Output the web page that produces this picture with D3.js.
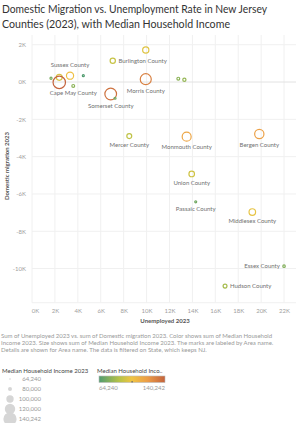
<!DOCTYPE html>
<html>
<head>
<meta charset="utf-8">
<script src="https://cdn.jsdelivr.net/npm/d3@7"></script>
<style>
  body { margin: 0; background: #fff; }
  svg { display: block; font-family: Lato, "Open Sans", sans-serif; }
</style>
</head>
<body>
<div id="chart"></div>
<script>
// county data
const counties = ['Salem County', 'Warren County', 'Hunterdon County', 'Sussex County', 'Cumberland County',
  'Cape May County', 'Burlington County', 'Gloucester County', 'Morris County', 'Atlantic County',
  'Camden County', 'Somerset County', 'Ocean County', 'Mercer County', 'Monmouth County',
  'Union County', 'Bergen County', 'Passaic County', 'Middlesex County', 'Essex County', 'Hudson County']
const unemployed = [1660, 2380, 2380, 3320, 4480, 3600, 7050, 9930, 9930, 12770,
  13300, 6870, 7250, 8490, 13500, 13940, 19840, 14290, 19230, 22000, 16850]
const migration = [200, 250, -20, 340, 340, -210, 1140, 1720, 150, 180,
  120, -640, -870, -2900, -2930, -4930, -2790, -6420, -6970, -9870, -10940]
const income = [74000, 96000, 140242, 104000, 64240, 78000, 92000, 98000, 130000, 78000,
  80000, 135000, 72000, 90000, 116000, 94000, 118000, 72000, 100000, 76000, 84000]
// which marks carry a label and where
const labelled = {
  'Sussex County': 'above', 'Cape May County': 'below', 'Burlington County': 'right',
  'Morris County': 'below', 'Somerset County': 'below', 'Mercer County': 'below',
  'Monmouth County': 'below', 'Bergen County': 'below', 'Union County': 'below',
  'Passaic County': 'below', 'Middlesex County': 'below', 'Essex County': 'left', 'Hudson County': 'right'
}
const xTicks = [0, 2000, 4000, 6000, 8000, 10000, 12000, 14000, 16000, 18000, 20000, 22000]
const yTicks = [-10000, -8000, -6000, -4000, -2000, 0, 2000]
const sizeLegend = [64240, 80000, 100000, 120000, 140242]
const colorStops = [64240, 88000, 102000, 120000, 140242]
const colorRange = ['#519c70', '#b7c347', '#efc443', '#ec9d47', '#c4633c']

const data = counties.map((name, i) => ({name, u: unemployed[i], m: migration[i], inc: income[i]}))

const W = 300, H = 423
const svg = d3.select('#chart').append('svg').attr('width', W).attr('height', H)

const x = d3.scaleLinear().domain([0, 23000]).range([32, 295.5])
const y = d3.scaleLinear().domain([-11830, 2520]).range([302.7, 35])
const r = d3.scaleSqrt().domain([63000, 140242]).range([0, 6.2]).clamp(true)
const color = d3.scaleLinear().domain(colorStops).range(colorRange)

// title - the tableau font is narrower, so squeeze it a bit
svg.append('text').attr('x', 2).attr('y', 13).attr('font-size', 11).attr('fill', '#333')
  .attr('textLength', 265).attr('lengthAdjust', 'spacingAndGlyphs')
  .text('Domestic Migration vs. Unemployment Rate in New Jersey')
svg.append('text').attr('x', 2).attr('y', 28).attr('font-size', 11).attr('fill', '#333')
  .attr('textLength', 228).attr('lengthAdjust', 'spacingAndGlyphs')
  .text('Counties (2023), with Median Household Income')

// grid
svg.append('g').selectAll('line').data(xTicks).enter().append('line')
  .attr('x1', d => x(d)).attr('x2', d => x(d)).attr('y1', 35).attr('y2', 302.7)
  .attr('stroke', '#f0f0f0').attr('stroke-width', 1)
svg.append('g').selectAll('line').data(yTicks).enter().append('line')
  .attr('x1', 32).attr('x2', 296).attr('y1', d => y(d)).attr('y2', d => y(d))
  .attr('stroke', d => d === 0 ? '#e2e2e2' : '#f0f0f0').attr('stroke-width', 1)
svg.append('line').attr('x1', 32).attr('x2', 296).attr('y1', 302.7).attr('y2', 302.7)
  .attr('stroke', '#f0f0f0')

// axes
const xAxis = svg.append('g').attr('transform', 'translate(0,306)')
  .call(d3.axisBottom(x).tickValues(xTicks).tickSize(0).tickFormat(d => d / 1000 + 'K'))
const yAxis = svg.append('g').attr('transform', 'translate(29,0)')
  .call(d3.axisLeft(y).tickValues(yTicks).tickSize(0).tickFormat(d => d / 1000 + 'K'))
for (const ax of [xAxis, yAxis]) {
  ax.select('.domain').remove()
  ax.selectAll('text').attr('font-size', 6).attr('fill', '#a0a0a0').attr('font-family', 'Lato, sans-serif')
}
xAxis.selectAll('text').attr('dy', '0.71em')
xAxis.selectAll('.tick').filter(d => d === 0).select('text').attr('dx', 3)

svg.append('text').attr('x', 165).attr('y', 323).attr('text-anchor', 'middle')
  .attr('font-size', 6).attr('font-weight', 'bold').attr('fill', '#555').text('Unemployed 2023')
svg.append('text').attr('transform', 'translate(9,166) rotate(-90)').attr('text-anchor', 'middle')
  .attr('font-size', 6).attr('font-weight', 'bold').attr('fill', '#555').text('Domestic migration 2023')

// marks
svg.append('g').selectAll('circle').data(data).enter().append('circle')
  .attr('cx', d => x(d.u)).attr('cy', d => y(d.m))
  .attr('r', d => Math.max(r(d.inc), 1))
  .attr('fill', 'none').attr('stroke', d => color(d.inc)).attr('stroke-width', 1.2)

// labels
const lab = svg.append('g').attr('font-size', 6).attr('fill', '#707070')
data.filter(d => labelled[d.name]).forEach(d => {
  const pos = labelled[d.name]
  const cx = x(d.u), cy = y(d.m), rr = r(d.inc)
  const t = lab.append('text').text(d.name)
  if (pos === 'below') t.attr('x', cx).attr('y', cy + rr + 8).attr('text-anchor', 'middle')
  if (pos === 'above') t.attr('x', cx).attr('y', cy - rr - 5).attr('text-anchor', 'middle')
  if (pos === 'right') t.attr('x', cx + rr + 3).attr('y', cy + 2.2)
  if (pos === 'left') t.attr('x', cx - rr - 3).attr('y', cy + 2.2).attr('text-anchor', 'end')
})

// caption
const caption = ['Sum of Unemployed 2023 vs. sum of Domestic migration 2023.  Color shows sum of Median Household',
  'Income 2023.  Size shows sum of Median Household Income 2023.  The marks are labeled by Area name.',
  'Details are shown for Area name. The data is filtered on State, which keeps NJ.']
svg.append('g').selectAll('text').data(caption).enter().append('text')
  .attr('x', 1).attr('y', (d, i) => 338 + i * 7).attr('font-size', 6).attr('fill', '#999').text(d => d)

// size legend
svg.append('text').attr('x', 2).attr('y', 372.5).attr('font-size', 6).attr('fill', '#444')
  .text('Median Household Income 2023')
const sl = svg.append('g').selectAll('g').data(sizeLegend).enter().append('g')
  .attr('transform', (d, i) => `translate(10,${379 + i * 10})`)
sl.append('circle').attr('r', d => Math.max(r(d) + 0.4, 0.8)).attr('fill', '#d6d6d6')
sl.append('text').attr('x', 31).attr('y', 2.2).attr('text-anchor', 'end')
  .attr('font-size', 6).attr('fill', '#999').text(d => d3.format(',')(d))

// colour legend
const defs = svg.append('defs')
const grad = defs.append('linearGradient').attr('id', 'incgrad')
colorStops.forEach((s, i) => grad.append('stop')
  .attr('offset', (s - colorStops[0]) / (colorStops[4] - colorStops[0]))
  .attr('stop-color', colorRange[i]))
svg.append('text').attr('x', 97).attr('y', 372.5).attr('font-size', 6).attr('fill', '#444')
  .text('Median Household Inco..')
svg.append('rect').attr('x', 99).attr('y', 376).attr('width', 66).attr('height', 6.5)
  .attr('fill', 'url(#incgrad)').attr('stroke', '#bbb').attr('stroke-width', 0.6)
svg.append('rect').attr('x', 131.5).attr('y', 381).attr('width', 1.2).attr('height', 1.5).attr('fill', '#666')
svg.append('text').attr('x', 99).attr('y', 389.5).attr('font-size', 6).attr('fill', '#999').text('64,240')
svg.append('text').attr('x', 165).attr('y', 389.5).attr('text-anchor', 'end')
  .attr('font-size', 6).attr('fill', '#999').text('140,242')
</script>
</body>
</html>
